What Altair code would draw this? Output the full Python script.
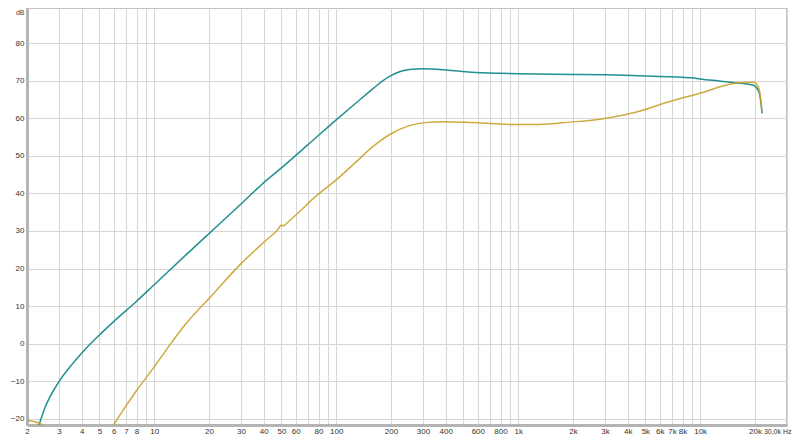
import altair as alt
import pandas as pd

# ---- data ----
teal_freq = [2.3, 2.5, 3, 3.5, 4, 5, 6, 8, 10, 15, 20, 30, 40, 50, 70, 100, 130, 160, 180,
             200, 225, 260, 300, 400, 550, 800, 1000, 2000, 3000, 5000, 7000, 9000,
             10000, 13000, 16000, 19500, 21000, 21600, 21900]
teal_db = [-22.5, -17.3, -10.1, -5.8, -2.5, 2.3, 5.9, 11.3, 15.7, 23.7, 29.3, 37.2, 42.9,
           46.8, 53.0, 59.6, 64.3, 68.0, 70.0, 71.4, 72.5, 73.1, 73.2, 72.9, 72.3, 72.0, 71.9,
           71.7, 71.6, 71.3, 71.1, 70.8, 70.5, 69.9, 69.4, 68.9, 67.1, 64.0, 61.3]

gold_freq = [2.0, 2.3, 2.6,
             5.85, 6, 7, 8, 10, 12, 15, 20, 30, 40, 48, 50, 51, 55, 63, 75, 100, 130, 160,
             200, 250, 300, 390, 550, 900, 1300, 1930, 2930, 4480, 6820, 10000, 15800,
             19600, 20400, 21300, 21800]
gold_db = [-20.4, -21.1, -22.4,
           -22.3, -21.5, -16.6, -12.5, -6.2, -0.8, 5.4, 12.0, 21.3, 27.0, 30.5, 31.6, 31.4,
           32.6, 35.2, 38.7, 43.6, 48.6, 52.6, 55.9, 58.0, 58.8, 59.1, 58.9, 58.4, 58.4, 59.0,
           59.9, 61.7, 64.5, 66.7, 69.4, 69.6, 69.2, 66.7, 62.2]
gold_seg = ["a", "a", "a"] + ["b"] * (len(gold_freq) - 3)

x_ticks = [2, 3, 4, 5, 6, 7, 8, 9, 10, 20, 30, 40, 50, 60, 70, 80, 90,
           100, 200, 300, 400, 500, 600, 700, 800, 900,
           1000, 2000, 3000, 4000, 5000, 6000, 7000, 8000, 9000,
           10000, 20000, 30000]
x_labels = ["2", "3", "4", "5", "6", "7", "8", "", "10", "20", "30", "40", "50", "60", "", "80", "",
            "100", "200", "300", "400", "", "600", "", "800", "",
            "1k", "2k", "3k", "4k", "5k", "6k", "7k", "8k", "",
            "10k", "20k", "30,0k Hz"]
y_ticks = [-20, -10, 0, 10, 20, 30, 40, 50, 60, 70, 80]

teal_color = "#238f8f"
gold_color = "#c9a22a"

teal_df = pd.DataFrame({"f": teal_freq, "db": teal_db})
gold_df = pd.DataFrame({"f": gold_freq, "db": gold_db, "seg": gold_seg})

label_expr = "[" + ",".join("'" + s + "'" for s in x_labels) + "][indexof([" + \
    ",".join(str(v) for v in x_ticks) + "], datum.value)]"

xscale = alt.Scale(type="log", domain=[2, 30000], nice=False)
yscale = alt.Scale(domain=[-21.68, 89.4], nice=False, zero=False)

FONT = "Liberation Sans"

xaxis = alt.Axis(values=x_ticks, labelExpr=label_expr, title=None, grid=True,
                 gridColor="#d6d6d6", gridWidth=1, ticks=False, domainColor="#b4b4b4",
                 domainWidth=3, labelFont=FONT, labelColor="#333333",
                 labelFontSize={"expr": "datum.value == 30000 ? 7 : 8"},
                 labelPadding=2, labelOverlap=False, labelFlush=False, labelBound=False,
                 labelAlign={"expr": "datum.value == 30000 ? 'right' : 'center'"},
                 labelOffset={"expr": "datum.value == 30000 ? 4 : 0"})
yaxis = alt.Axis(values=y_ticks, title="dB", titleAngle=0, titleX=-3, titleY=0,
                 titleAlign="right", titleBaseline="top", titleFont=FONT,
                 titleFontSize=7, titleFontWeight="normal", titleColor="#444444",
                 grid=True, gridColor="#d6d6d6", gridWidth=1, ticks=False,
                 domainColor="#b4b4b4", domainWidth=3, labelFont=FONT,
                 labelFontSize=8, labelColor="#333333", labelPadding=3)

teal = alt.Chart(teal_df).mark_line(color=teal_color, strokeWidth=1.5, clip=True,
                                    interpolate="monotone").encode(
    x=alt.X("f:Q", scale=xscale, axis=xaxis),
    y=alt.Y("db:Q", scale=yscale, axis=yaxis),
    order="f:Q",
)
gold = alt.Chart(gold_df).mark_line(color=gold_color, strokeWidth=1.5, clip=True,
                                    opacity=0.9, interpolate="monotone").encode(
    x=alt.X("f:Q", scale=xscale),
    y=alt.Y("db:Q", scale=yscale),
    detail="seg:N",
    order="f:Q",
)

chart = alt.layer(teal, gold).properties(
    width=760, height=417,
    autosize=alt.AutoSizeParams(type="none"),
    padding={"left": 19, "top": 0, "right": 5, "bottom": 11},
    background="white",
).configure_view(stroke="#c4c4c4", strokeWidth=2)

chart.save("out.html", embed_options={"renderer": "svg", "actions": False})
